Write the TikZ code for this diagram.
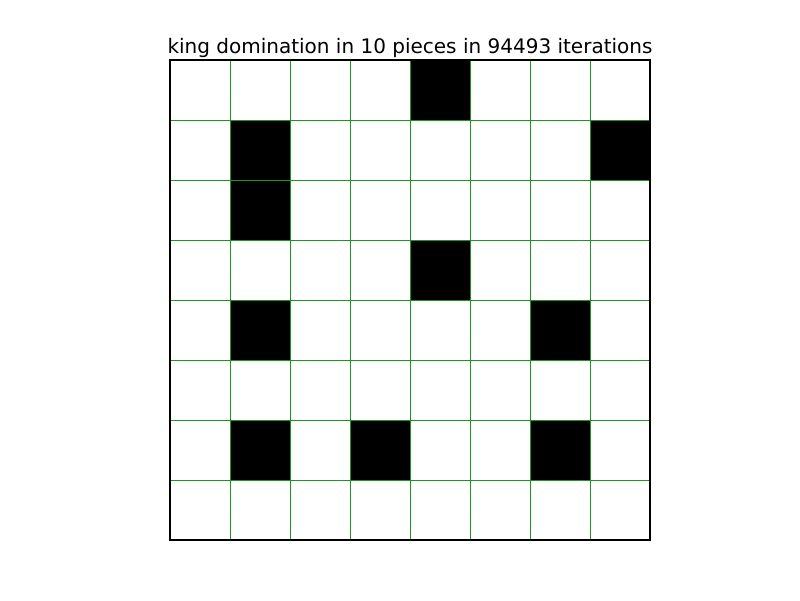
\documentclass[tikz,border=0pt]{standalone}
\usepackage{fontspec}
\setmainfont{DejaVu Sans}
\definecolor{gridgreen}{RGB}{30,150,30}
\tikzset{
  cell/.style={fill=black,draw=none},
  gridline/.style={draw=gridgreen,line width=0.7pt},
  frame/.style={draw=black,line width=0.8pt},
  titletext/.style={font=\fontsize{14.4}{17}\selectfont,inner sep=0pt,anchor=base}
}
\begin{document}
\begin{tikzpicture}[x=0.72pt,y=-0.72pt]
\useasboundingbox[fill=white] (0,0) rectangle (800,600);
\node[titletext] (title) at (410,53) {king domination in 10 pieces in 94493 iterations};
% black cells: (col,row)
\foreach \c/\r in {4/0,1/1,7/1,1/2,4/3,1/4,6/4,1/6,3/6,6/6}{
  \fill[cell] ({170+60*\c},{60+60*\r}) rectangle ({230+60*\c},{120+60*\r});
}
\foreach \i in {1,...,7}{
  \draw[gridline] ({170+60*\i},60) -- ({170+60*\i},540);
  \draw[gridline] (170,{60+60*\i}) -- (650,{60+60*\i});
}
\draw[frame] (170,60) rectangle (650,540);
\end{tikzpicture}
\end{document}
